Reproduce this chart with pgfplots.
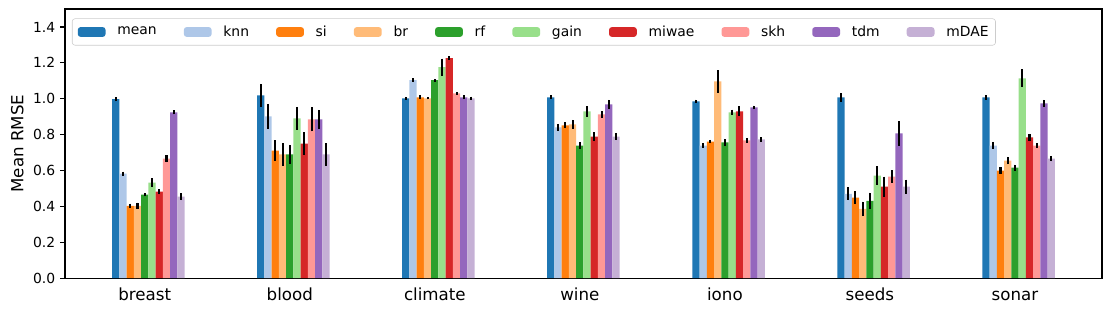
\documentclass[border=0pt]{standalone}
\usepackage{pgfplots}
\usepackage{pgfplotstable}
\pgfplotsset{compat=1.18}
\usepackage{fontspec}
\setmainfont{DejaVu Sans}
\definecolor{c0}{HTML}{1F77B4}
\definecolor{c1}{HTML}{AEC7E8}
\definecolor{c2}{HTML}{FF7F0E}
\definecolor{c3}{HTML}{FFBB78}
\definecolor{c4}{HTML}{2CA02C}
\definecolor{c5}{HTML}{98DF8A}
\definecolor{c6}{HTML}{D62728}
\definecolor{c7}{HTML}{FF9896}
\definecolor{c8}{HTML}{9467BD}
\definecolor{c9}{HTML}{C5B0D5}
\pgfplotstableread{
g mean meanE knn knnE si siE br brE rf rfE gain gainE miwae miwaeE skh skhE tdm tdmE mdae mdaeE
0 0.997 0.012 0.582 0.012 0.403 0.012 0.403 0.018 0.465 0.010 0.532 0.025 0.482 0.012 0.666 0.020 0.924 0.012 0.454 0.020
1 1.019 0.063 0.901 0.070 0.711 0.056 0.689 0.064 0.689 0.053 0.890 0.064 0.750 0.064 0.885 0.067 0.885 0.053 0.689 0.062
2 1.002 0.008 1.103 0.010 1.008 0.012 1.002 0.006 1.103 0.008 1.176 0.048 1.226 0.010 1.030 0.008 1.008 0.010 1.002 0.010
3 1.008 0.012 0.840 0.020 0.851 0.017 0.857 0.025 0.739 0.017 0.929 0.030 0.789 0.025 0.913 0.018 0.969 0.025 0.789 0.020
4 0.985 0.010 0.739 0.013 0.761 0.010 1.097 0.063 0.756 0.020 0.924 0.015 0.929 0.028 0.767 0.013 0.952 0.010 0.773 0.013
5 1.008 0.025 0.470 0.036 0.448 0.036 0.386 0.040 0.431 0.045 0.571 0.053 0.510 0.056 0.566 0.034 0.806 0.067 0.510 0.039
6 1.008 0.013 0.739 0.020 0.599 0.020 0.655 0.020 0.616 0.017 1.114 0.050 0.784 0.020 0.739 0.013 0.974 0.020 0.666 0.015
}\datatable
\pgfplotsset{
  mybar/.style={fill=#1, draw=none,
    legend image code/.code={\fill[fill=#1] (0pt,-3.5pt) rectangle (20pt,3.5pt);}},
}
\begin{document}
\begin{tikzpicture}
\useasboundingbox (-46.8pt,-23.8pt) rectangle (753.1pt,200.2pt);
\begin{axis}[
  at={(0pt,0pt)}, anchor=south west,
  scale only axis, width=746.6pt, height=193.7pt,
  xmin=-0.55, xmax=6.6, ymin=0, ymax=1.5,
  ybar, bar width=0.05, bar shift=0pt,
  xtick={0,1,2,3,4,5,6},
  xticklabels={breast,blood,climate,wine,iono,seeds,sonar},
  x tick label style={font=\fontsize{12}{14}\selectfont, text height=9pt, text depth=2.5pt, anchor=north},
  major x tick style={draw=none},
  ytick pos=left,
  ytick={0,0.2,0.4,0.6,0.8,1.0,1.2,1.4},
  y tick label style={font=\fontsize{10}{12}\selectfont},
  yticklabel style={/pgf/number format/.cd, fixed, fixed zerofill, precision=1, assume math mode=true},
  tick align=outside, major tick length=3.5pt,
  major y tick style={black, line width=0.8pt},
  axis line style={line width=0.8pt},
  ylabel={Mean RMSE},
  ylabel style={font=\fontsize{12}{14}\selectfont},
  error bars/y dir=both, error bars/y explicit,
  error bars/error mark=none,
  error bars/error bar style={black, line width=1.5pt},
  legend columns=10,
  legend cell align=left,
  legend style={at={(0.0067,0.965)}, anchor=north west,
    draw=black!20, rounded corners=2pt, inner xsep=4pt, inner ysep=4pt,
    font=\fontsize{10}{12}\selectfont,
    nodes={inner sep=1pt},
    /tikz/every odd column/.append style={column sep=7.5pt},
    /tikz/every even column/.append style={column sep=18.5pt}},
]
\addplot[mybar=c0] table[x expr=\thisrow{g}-0.20, y=mean, y error=meanE]{\datatable};
\addlegendentry{mean}
\addplot[mybar=c1] table[x expr=\thisrow{g}-0.15, y=knn, y error=knnE]{\datatable};
\addlegendentry{knn}
\addplot[mybar=c2] table[x expr=\thisrow{g}-0.10, y=si, y error=siE]{\datatable};
\addlegendentry{si}
\addplot[mybar=c3] table[x expr=\thisrow{g}-0.05, y=br, y error=brE]{\datatable};
\addlegendentry{br}
\addplot[mybar=c4] table[x expr=\thisrow{g}, y=rf, y error=rfE]{\datatable};
\addlegendentry{rf}
\addplot[mybar=c5] table[x expr=\thisrow{g}+0.05, y=gain, y error=gainE]{\datatable};
\addlegendentry{gain}
\addplot[mybar=c6] table[x expr=\thisrow{g}+0.10, y=miwae, y error=miwaeE]{\datatable};
\addlegendentry{miwae}
\addplot[mybar=c7] table[x expr=\thisrow{g}+0.15, y=skh, y error=skhE]{\datatable};
\addlegendentry{skh}
\addplot[mybar=c8] table[x expr=\thisrow{g}+0.20, y=tdm, y error=tdmE]{\datatable};
\addlegendentry{tdm}
\addplot[mybar=c9] table[x expr=\thisrow{g}+0.25, y=mdae, y error=mdaeE]{\datatable};
\addlegendentry{mDAE}
\end{axis}
\end{tikzpicture}
\end{document}
